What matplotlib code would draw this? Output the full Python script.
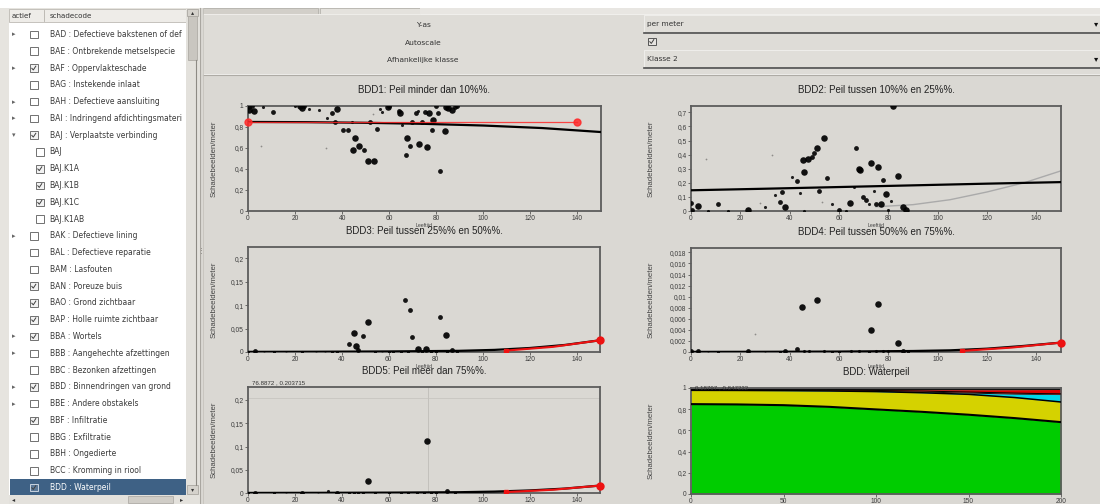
import numpy as np
import matplotlib.pyplot as plt
from matplotlib.patches import Rectangle
from matplotlib.ticker import FuncFormatter

plt.rcParams['font.family'] = ['Liberation Sans', 'DejaVu Sans']

W, H = 1100, 504
BG = '#dad8d3'

# ---- tree with damage codes ----
tree_labels = [
    "BAD : Defectieve bakstenen of def", "BAE : Ontbrekende metselspecie",
    "BAF : Oppervlakteschade", "BAG : Instekende inlaat",
    "BAH : Defectieve aansluiting", "BAI : Indringend afdichtingsmateri",
    "BAJ : Verplaatste verbinding", "BAJ", "BAJ.K1A", "BAJ.K1B", "BAJ.K1C",
    "BAJ.K1AB", "BAK : Defectieve lining", "BAL : Defectieve reparatie",
    "BAM : Lasfouten", "BAN : Poreuze buis", "BAO : Grond zichtbaar",
    "BAP : Holle ruimte zichtbaar", "BBA : Wortels",
    "BBB : Aangehechte afzettingen", "BBC : Bezonken afzettingen",
    "BBD : Binnendringen van grond", "BBE : Andere obstakels",
    "BBF : Infiltratie", "BBG : Exfiltratie", "BBH : Ongedierte",
    "BCC : Kromming in riool", "BDD : Waterpeil",
]
tree_checked = [0, 0, 1, 0, 0, 0, 1, 0, 1, 1, 1, 0, 0, 0,
                0, 1, 1, 1, 1, 0, 0, 1, 0, 1, 0, 0, 0, 1]
# '' = leaf, 'c' = collapsed, 'o' = opened, 'k' = child of BAJ
tree_kind = ['c', '', 'c', '', 'c', 'c', 'o', 'k', 'k', 'k', 'k', 'k', 'c', '',
             '', '', '', '', 'c', 'c', '', 'c', 'c', '', '', '', '', '']
tree_selected = 27

yas_label, yas_value = "Y-as", "per meter"
klasse_label, klasse_value = "Afhankelijke klasse", "Klasse 2"

# ---- scatter data: (leeftijd, schadebeelden/meter, size class) ----
bdd1_points = [
    (0.5, 0.96, 3), (2.7, 0.95, 3), (0.3, 0.99, 2), (6.5, 0.99, 1), (10.8, 0.94, 2),
    (22, 1.0, 3), (23, 0.98, 3), (26, 0.97, 1), (30, 0.96, 1), (5.5, 0.62, 0),
    (33, 0.6, 0), (33.4, 0.89, 1), (35.5, 0.93, 2), (37.7, 0.97, 3), (37, 0.85, 2),
    (40.5, 0.77, 2), (42.6, 0.77, 2), (44, 0.85, 1), (45.5, 0.70, 3), (44.8, 0.58, 3),
    (47, 0.62, 3), (49.4, 0.58, 2), (51, 0.48, 3), (52, 0.85, 2), (53.7, 0.48, 3),
    (53, 0.92, 0), (54.7, 0.78, 2), (56, 0.97, 1), (57, 0.94, 1), (59.6, 0.99, 3),
    (64, 0.95, 2), (64.6, 0.93, 3), (65.6, 0.82, 1), (67, 0.53, 2), (67.7, 0.70, 3),
    (68.8, 0.62, 2), (69.7, 0.85, 2), (71.4, 0.93, 2), (72.4, 0.95, 1), (72.7, 0.64, 3),
    (73.8, 0.85, 2), (75, 0.94, 2), (76, 0.61, 3), (77, 0.93, 3), (78, 0.77, 2),
    (78.8, 0.87, 3), (80, 1.0, 2), (80.6, 0.93, 2), (81.6, 0.38, 2), (83.7, 0.76, 3),
    (85, 0.98, 3), (86.5, 0.96, 3), (88, 0.99, 2), (1.5, 1.0, 2), (20, 1.0, 1),
    (24, 1.0, 2), (60, 1.0, 2), (84, 0.99, 3), (89, 1.0, 2),
]
bdd2_points = [
    (82, 0.745, 3), (0, 0.06, 2), (3, 0.035, 3), (0.4, 0.01, 2), (11, 0.05, 2),
    (6, 0.37, 0), (33, 0.40, 0), (23, 0.005, 3), (28, 0.055, 0), (30, 0.025, 1),
    (34, 0.11, 1), (36, 0.065, 2), (37, 0.135, 2), (38, 0.03, 3), (41, 0.24, 1),
    (43, 0.21, 2), (44, 0.13, 1), (45.4, 0.365, 3), (46, 0.28, 3), (47.4, 0.37, 3),
    (49, 0.38, 2), (50, 0.41, 2), (51, 0.45, 3), (52, 0.14, 2), (54, 0.52, 3),
    (55, 0.235, 2), (53, 0.065, 0), (57, 0.05, 1), (60, 0.005, 2), (64.6, 0.057, 3),
    (66, 0.17, 1), (67, 0.445, 2), (68, 0.30, 3), (68.6, 0.29, 3), (69.7, 0.10, 2),
    (71, 0.075, 2), (72, 0.05, 1), (73, 0.34, 3), (74, 0.14, 1), (75, 0.05, 2),
    (76, 0.31, 3), (77, 0.05, 3), (78, 0.22, 2), (79, 0.12, 3), (81, 0.07, 1),
    (84, 0.245, 3), (86, 0.03, 3), (87, 0.01, 3), (80, 0.005, 1), (7, 0.0, 1),
    (15, 0.0, 1), (46, 0.0, 1), (63, 0.0, 1),
]
bdd3_points = [
    (3, 0.003, 2), (11, 0.0, 1), (23, 0.0, 1), (38, 0.0, 1), (43, 0.018, 2),
    (45, 0.041, 3), (46.2, 0.012, 3), (47, 0.005, 2), (49, 0.034, 2), (51, 0.064, 3),
    (54, 0.0, 1), (65, 0.0, 1), (67, 0.111, 2), (69, 0.089, 2), (70, 0.033, 2),
    (72.3, 0.007, 3), (76, 0.006, 3), (82, 0.074, 2), (84.2, 0.036, 3), (87, 0.004, 2),
    (0, 0.0, 1), (7, 0.0, 0), (16, 0.0, 0), (29, 0.0, 0), (33, 0.0, 0), (36, 0.0, 1),
    (57, 0.0, 0), (60, 0.0, 1), (62, 0.0, 1), (68, 0.0, 1), (74, 0.0, 1), (78, 0.0, 1),
    (80, 0.0, 1), (85, 0.0, 1), (89, 0.0, 1),
]
bdd4_points = [
    (45, 0.00805, 3), (51, 0.0094, 3), (76, 0.0086, 3), (73, 0.0039, 3), (84, 0.00155, 3),
    (43, 0.0006, 2), (26, 0.0033, 0), (0, 0.0001, 2), (3, 0.0001, 2), (11, 0.0, 1),
    (23, 0.0001, 2), (38, 0.0001, 2), (46, 0.0001, 1), (48, 0.0001, 1), (54, 0.0001, 1),
    (60, 0.0, 1), (65, 0.0001, 1), (68, 0.0001, 1), (72, 0.0, 1), (75, 0.0001, 1),
    (78, 0.0001, 1), (80, 0.0001, 1), (86, 0.0001, 2), (88, 0.0, 1), (7, 0.0, 0),
    (30, 0.0, 0), (36, 0.0, 1), (57, 0.0, 1),
]
bdd5_points = [
    (76.1, 0.112, 3), (51.1, 0.025, 3), (85, 0.005, 2), (34, 0.005, 1), (0, 0.001, 1),
    (3, 0.001, 2), (11, 0.0, 1), (23, 0.001, 2), (38, 0.001, 2), (43, 0.001, 1),
    (45, 0.001, 1), (47, 0.001, 1), (49, 0.001, 1), (54, 0.0, 1), (60, 0.0, 1),
    (65, 0.001, 1), (68, 0.001, 1), (72, 0.0, 1), (75, 0.001, 1), (78, 0.001, 1),
    (80, 0.001, 1), (88, 0.0, 1), (30, 0.0, 0), (16, 0.0, 0),
]

# ---- fitted curves ----
bdd1_fit_x = [0, 25, 50, 75, 100, 125, 150]
bdd1_fit_y = [0.848, 0.846, 0.840, 0.830, 0.814, 0.790, 0.752]
bdd1_ref_x = [0, 140]
bdd1_ref_y = [0.85, 0.85]

bdd2_fit_x = [0, 30, 60, 90, 120, 150]
bdd2_fit_y = [0.147, 0.158, 0.170, 0.182, 0.194, 0.205]
bdd2_alt_x = [75, 90, 105, 120, 135, 150]
bdd2_alt_y = [0.03, 0.045, 0.08, 0.135, 0.20, 0.285]

tail_x = [0, 30, 60, 90, 105, 120, 135, 150]
bdd3_fit_y = [0.0003, 0.0006, 0.0012, 0.0025, 0.0045, 0.0085, 0.015, 0.025]
bdd4_fit_y = [0.00002, 0.00004, 0.00008, 0.00018, 0.0003, 0.0006, 0.0011, 0.0017]
bdd5_fit_y = [0.0002, 0.0004, 0.0008, 0.0017, 0.003, 0.0055, 0.0095, 0.016]
red_x = [110, 130, 150]
bdd3_red_y = [0.003, 0.011, 0.025]
bdd4_red_y = [0.0002, 0.0008, 0.0017]
bdd5_red_y = [0.002, 0.007, 0.016]

bdd5_cursor = (76.8872, 0.203715)
bdd_cursor = (0.18797, 0.847222)

# ---- waterpeil classes, cumulative upper bounds ----
peil_x = [0, 25, 50, 75, 100, 125, 150, 175, 200]
peil_bdd1 = [0.848, 0.845, 0.838, 0.822, 0.798, 0.775, 0.748, 0.716, 0.678]
peil_bdd2 = [0.978, 0.977, 0.975, 0.972, 0.966, 0.955, 0.940, 0.910, 0.868]
peil_bdd3 = [0.979, 0.978, 0.977, 0.975, 0.970, 0.962, 0.952, 0.942, 0.938]
peil_bdd4 = [0.985, 0.984, 0.983, 0.981, 0.977, 0.971, 0.962, 0.952, 0.944]
peil_bdd5 = [0.988, 0.988, 0.987, 0.986, 0.985, 0.984, 0.984, 0.984, 0.986]
peil_top = [1.0] * 9

fig = plt.figure(figsize=(W / 100, H / 100), dpi=100, facecolor=BG)

# ---------------- window chrome ----------------
ui = fig.add_axes([0, 0, 1, 1], zorder=-1)
ui.set_xlim(0, W)
ui.set_ylim(H, 0)
ui.axis('off')


def rect(x0, y0, x1, y1, fc, ec='none', lw=0.6, z=1):
    ui.add_patch(Rectangle((x0, y0), x1 - x0, y1 - y0, facecolor=fc,
                           edgecolor=ec, linewidth=lw, zorder=z))


def label(x, y, s, size=5.3, color='#333333', ha='left', z=3):
    ui.text(x, y, s, fontsize=size, color=color, ha=ha, va='center',
            family='DejaVu Sans', zorder=z)


def checkbox(x0, yc, checked, edge='#707070', face='white'):
    rect(x0, yc - 3.8, x0 + 7.6, yc + 3.8, face, ec=edge, lw=0.7, z=4)
    if checked:
        ui.plot([x0 + 1.8, x0 + 3.3, x0 + 5.8], [yc + 0.2, yc + 1.9, yc - 1.9],
                color='#404040', lw=0.7, zorder=5)


rect(0, 0, W, H, BG, z=0)
rect(0, 0, W, 8, 'white', z=0.5)

# left tree panel
rect(0, 8, 200, H, '#e6e4df')
rect(9, 22, 186, 495, 'white', z=1.2)
rect(9, 9, 186, 22, '#eeece8', ec='#bdbab4', lw=0.6, z=1.5)
ui.plot([43.5, 43.5], [10, 21], color='#b5b2ac', lw=0.6, zorder=2)
label(12, 15.5, "actief", size=5.1)
label(50, 15.5, "schadecode", size=5.1)

row_h = 16.78
for i, (txt, chk, kind) in enumerate(zip(tree_labels, tree_checked, tree_kind)):
    yc = 34.5 + i * row_h
    sel = i == tree_selected
    if sel:
        rect(10, yc - 8.4, 186, yc + 8.4, '#3e6185', z=1.8)
    if kind == 'c':
        label(14, yc, '\u25b8', size=5, color='#666666', ha='center')
    elif kind == 'o':
        label(14, yc, '\u25be', size=5, color='#666666', ha='center')
    x0 = 36 if kind == 'k' else 30
    if sel:
        checkbox(x0, yc, chk, edge='#c8d3df', face='#5a7898')
    else:
        checkbox(x0, yc, chk, face='#f2f2f2' if chk else 'white')
    label(49.5, yc, txt, size=5.5, color='white' if sel else '#3a3a3a')

# vertical scrollbar of the tree
rect(186, 8, 199, 495, '#e3e1dc', z=6)
rect(187, 9, 198, 16, '#d5d2cc', ec='#a19e98', lw=0.5, z=6.5)
label(192.5, 12.2, '\u25b4', size=4.5, color='#333333', ha='center', z=7)
rect(188, 16, 197, 60, '#c9c6c0', ec='#a8a59f', lw=0.5, z=6.5)
ui.plot([196, 196], [60, 485], color='#8d8a84', lw=0.8, zorder=6.6)
rect(187, 485, 198, 494, '#d5d2cc', ec='#a19e98', lw=0.5, z=6.5)
label(192.5, 489.5, '\u25be', size=4.5, color='#333333', ha='center', z=7)

# horizontal scrollbar of the tree
rect(9, 495, 199, H, '#e3e1dc', z=6)
label(14, 499.5, '\u25c2', size=4.5, color='#333333', ha='center', z=7)
rect(128, 496, 173, 503, '#d0cdc7', ec='#a8a59f', lw=0.5, z=6.5)
label(182, 499.5, '\u25b8', size=4.5, color='#333333', ha='center', z=7)

# splitter
ui.plot([199.5, 199.5], [8, H], color='#a9a6a0', lw=0.8, zorder=7)
ui.plot([202.5, 202.5], [8, H], color='#c6c3bd', lw=0.6, zorder=7)
label(201, 250, '\u22ee', size=5, color='#7a7772', ha='center', z=7)

# tab strip and option panel
rect(203, 8, 318, 14, '#d2cfc9', ec='#aeaba5', lw=0.5, z=1)
rect(320, 8, 420, 14, '#e4e2dd', ec='#aeaba5', lw=0.5, z=1)
rect(420, 8, W, 14, '#e8e6e2', z=1)
rect(203, 14, W + 2, 74, '#dedcd7', ec='#f5f4f1', lw=0.6, z=1)
ui.plot([203, W], [74.5, 74.5], color='#aeaba5', lw=0.8, zorder=2)

label(423, 25, yas_label, size=5.4, ha='center')
label(423, 43, "Autoscale", size=5.4, ha='center')
label(423, 60, klasse_label, size=5.4, ha='center')

for y0, y1, txt in [(15, 33, yas_value), (50, 68, klasse_value)]:
    rect(644, y0, W + 2, y1, '#e0ded9', ec='#f2f1ee', lw=0.6, z=2)
    ui.plot([644, W], [y1, y1], color='#4d4d4d', lw=1.2, zorder=3)
    label(647, (y0 + y1) / 2, txt, size=5.3)
    label(1096, (y0 + y1) / 2, '\u25be', size=6, color='#111111', ha='center')
checkbox(648, 41.5, True, edge='#555555', face='#e6e4e0')

# ---------------- charts ----------------
SIZES = {3: 22, 2: 12, 1: 5, 0: 1.6}


def comma(v, pos):
    return ('%g' % v).replace('.', ',')


def chart(x0, y0, x1, y1, title, xmax, xstep, yticks, ymax, ylab_x):
    ax = fig.add_axes([x0 / W, 1 - y1 / H, (x1 - x0) / W, (y1 - y0) / H])
    ax.set_facecolor(BG)
    ax.set_xlim(0, xmax)
    ax.set_ylim(0, ymax)
    ax.set_xticks(np.arange(0, xmax, xstep) if xmax % xstep else np.arange(0, xmax + 1, xstep))
    ax.set_yticks(yticks)
    ax.yaxis.set_major_formatter(FuncFormatter(comma))
    ax.tick_params(labelsize=4.8, length=2, width=0.5, colors='#3c3c3c', pad=1.2)
    for sp in ax.spines.values():
        sp.set_color('#5c5c5c')
        sp.set_linewidth(1.3)
    ax.set_title(title, fontsize=7, pad=9.3, color='#222222')
    ax.set_ylabel('Schadebeelden/meter', fontsize=5.6, color='#444444')
    ax.yaxis.set_label_coords(ylab_x, 0.5)
    ax.set_xlabel('Leeftijd', fontsize=3.8, color='#444444', labelpad=0.6)
    return ax


def scatter(ax, points):
    px, py, ps = np.array(points).T
    for cls, alpha in [(0, 0.35), (1, 0.85), (2, 0.9), (3, 0.92)]:
        m = ps == cls
        ax.scatter(px[m], py[m], s=SIZES[cls], color='black', alpha=alpha,
                   linewidths=0, zorder=3)


def red_tail(ax, ry):
    ax.plot(red_x, ry, color='#ee1111', lw=1.5, zorder=5)
    ax.plot(red_x[0], ry[0], 's', color='#ee1111', ms=3.2, zorder=6)
    ax.plot(red_x[-1], ry[-1], 'o', color='#ee1111', ms=5, zorder=6, clip_on=False)


# BDD1
ax1 = chart(248, 106, 601, 211, 'BDD1: Peil minder dan 10%%.', 150, 20,
            [0, 0.2, 0.4, 0.6, 0.8, 1], 1.0, -0.085)
scatter(ax1, bdd1_points)
ax1.plot(bdd1_fit_x, bdd1_fit_y, color='black', lw=1.6, zorder=4)
ax1.plot(bdd1_ref_x, bdd1_ref_y, color='#ff2a2a', lw=0.9, alpha=0.85, zorder=5,
         marker='o', ms=5, clip_on=False)

# BDD2
ax2 = chart(691, 106, 1061, 211, 'BDD2: Peil tussen 10%% en 25%%.', 150, 20,
            [0, 0.1, 0.2, 0.3, 0.4, 0.5, 0.6, 0.7], 0.745, -0.097)
scatter(ax2, bdd2_points)
ax2.plot(bdd2_fit_x, bdd2_fit_y, color='black', lw=1.6, zorder=4)
ax2.plot(bdd2_alt_x, bdd2_alt_y, color='#aaaaaa', lw=1.0, zorder=2)

# BDD3
ax3 = chart(248, 247, 600, 352, 'BDD3: Peil tussen 25%% en 50%%.', 150, 20,
            [0, 0.05, 0.1, 0.15, 0.2], 0.224, -0.085)
scatter(ax3, bdd3_points)
ax3.plot(tail_x, bdd3_fit_y, color='black', lw=1.6, zorder=4)
red_tail(ax3, bdd3_red_y)

# BDD4
ax4 = chart(691, 248, 1061, 352, 'BDD4: Peil tussen 50%% en 75%%.', 150, 20,
            [0, 0.002, 0.004, 0.006, 0.008, 0.01, 0.012, 0.014, 0.016, 0.018],
            0.0188, -0.097)
scatter(ax4, bdd4_points)
ax4.plot(tail_x, bdd4_fit_y, color='black', lw=1.6, zorder=4)
red_tail(ax4, bdd4_red_y)

# BDD5 with cursor read-out
ax5 = chart(248, 387, 600, 493, 'BDD5: Peil meer dan 75%%.', 150, 20,
            [0, 0.05, 0.1, 0.15, 0.2], 0.228, -0.085)
ax5.axvline(bdd5_cursor[0], color='#b9b7b2', lw=0.5, zorder=1)
ax5.axhline(bdd5_cursor[1], color='#c4c2bd', lw=0.5, zorder=1)
scatter(ax5, bdd5_points)
ax5.plot(tail_x, bdd5_fit_y, color='black', lw=1.6, zorder=4)
red_tail(ax5, bdd5_red_y)
ax5.text(0.01, 1.012, '%g , %g' % bdd5_cursor, transform=ax5.transAxes,
         fontsize=4.4, color='#333333', va='bottom')

# BDD waterpeil: stacked class shares
ax6 = chart(691, 388, 1061, 494, 'BDD: Waterpeil', 200, 50,
            [0, 0.2, 0.4, 0.6, 0.8, 1], 1.0, -0.097)
bounds = [np.zeros(len(peil_x)), peil_bdd1, peil_bdd2, peil_bdd3, peil_bdd4,
          peil_bdd5, peil_top]
fills = ['#00cc00', '#d5d200', '#00d6ea', '#141414', '#dd0000', '#111111']
for lo, hi, c in zip(bounds[:-1], bounds[1:], fills):
    ax6.fill_between(peil_x, lo, hi, color=c, linewidth=0, zorder=2)
ax6.plot(peil_x, peil_bdd1, color='black', lw=1.5, zorder=3)
ax6.plot(peil_x, peil_bdd2, color='black', lw=1.1, zorder=3)
ax6.plot(peil_x, peil_bdd4, color='black', lw=0.7, zorder=3)
ax6.text(0.01, 1.0, '%g , %g' % bdd_cursor, transform=ax6.transAxes,
         fontsize=4.4, color='#333333', va='center', zorder=5)

fig.savefig('out.png', dpi=100, facecolor=BG)
